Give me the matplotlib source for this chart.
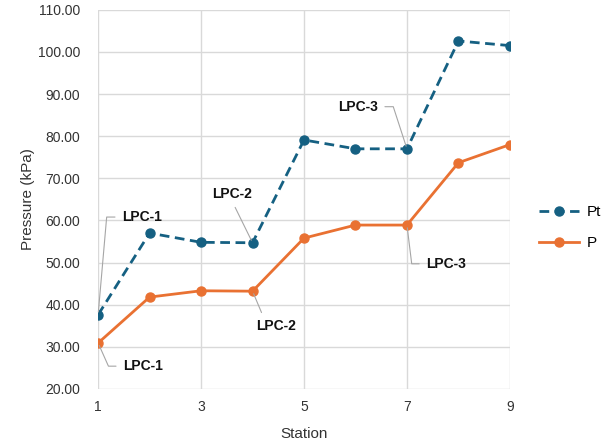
import matplotlib.pyplot as plt
from matplotlib.ticker import FormatStrFormatter

plt.rcParams['font.family'] = ['Liberation Sans', 'DejaVu Sans']

stations = [1, 2, 3, 4, 5, 6, 7, 8, 9]
pt_values = [37.6, 57.0, 54.8, 54.7, 79.1, 77.0, 77.0, 102.6, 101.5]
p_values = [30.9, 41.8, 43.3, 43.2, 55.8, 58.9, 58.9, 73.7, 78.0]

blue = '#156082'
orange = '#E97132'

fig = plt.figure(figsize=(6.02, 4.46), dpi=100)
ax = fig.add_axes([0.163, 0.128, 0.684, 0.850])

ax.plot(stations, pt_values, color=blue, lw=2, ls=(0, (3.5, 2)), marker='o', ms=6.5, label='Pt')
ax.plot(stations, p_values, color=orange, lw=2, marker='o', ms=6.5, label='P')

ax.set_xlim(1, 9)
ax.set_ylim(20, 110)
ax.set_xticks([1, 3, 5, 7, 9])
ax.set_yticks(range(20, 111, 10))
ax.yaxis.set_major_formatter(FormatStrFormatter('%.2f'))
ax.tick_params(length=0, labelsize=10, colors='#333333')
ax.tick_params(axis='y', pad=13)
ax.tick_params(axis='x', pad=8)
ax.grid(color='#d9d9d9', lw=1)
for s in ax.spines.values():
    s.set_visible(False)
ax.set_xlabel('Station', fontsize=11, color='#333333', labelpad=9)
ax.set_ylabel('Pressure (kPa)', fontsize=11, color='#333333', labelpad=2)

# callouts: (series, station index, label, text position, connection style, leader start on the text box)
callouts = [
    (pt_values, 0, 'LPC-1', (1.85, 60.8), 'angle,angleA=0,angleB=85,rad=0', (0.5, 0.5)),
    (p_values, 0, 'LPC-1', (1.87, 25.4), 'angle,angleA=0,angleB=-66,rad=0', (0.5, 0.5)),
    (pt_values, 3, 'LPC-2', (3.60, 66.3), 'arc3', (0.5, 0.0)),
    (p_values, 3, 'LPC-2', (4.46, 34.9), 'arc3', (0.2, 1.0)),
    (pt_values, 6, 'LPC-3', (6.05, 87.0), 'angle,angleA=0,angleB=108,rad=0', (0.5, 0.5)),
    (p_values, 6, 'LPC-3', (7.76, 49.7), 'angle,angleA=0,angleB=-83,rad=0', (0.5, 0.5)),
]
for series, i, txt, pos, cs, rp in callouts:
    ax.annotate(txt, xy=(stations[i], series[i]), xytext=pos, ha='center', va='center',
                fontsize=10, fontweight='bold', color='#111111',
                arrowprops=dict(arrowstyle='-', color='#a6a6a6', lw=0.8, relpos=rp,
                                connectionstyle=cs, shrinkA=3, shrinkB=2))

fig.legend(loc='center left', bbox_to_anchor=(0.873, 0.49), frameon=False,
           fontsize=11, handlelength=2.6, labelspacing=1.1, handletextpad=0.5)

fig.savefig('out.png', dpi=100)
